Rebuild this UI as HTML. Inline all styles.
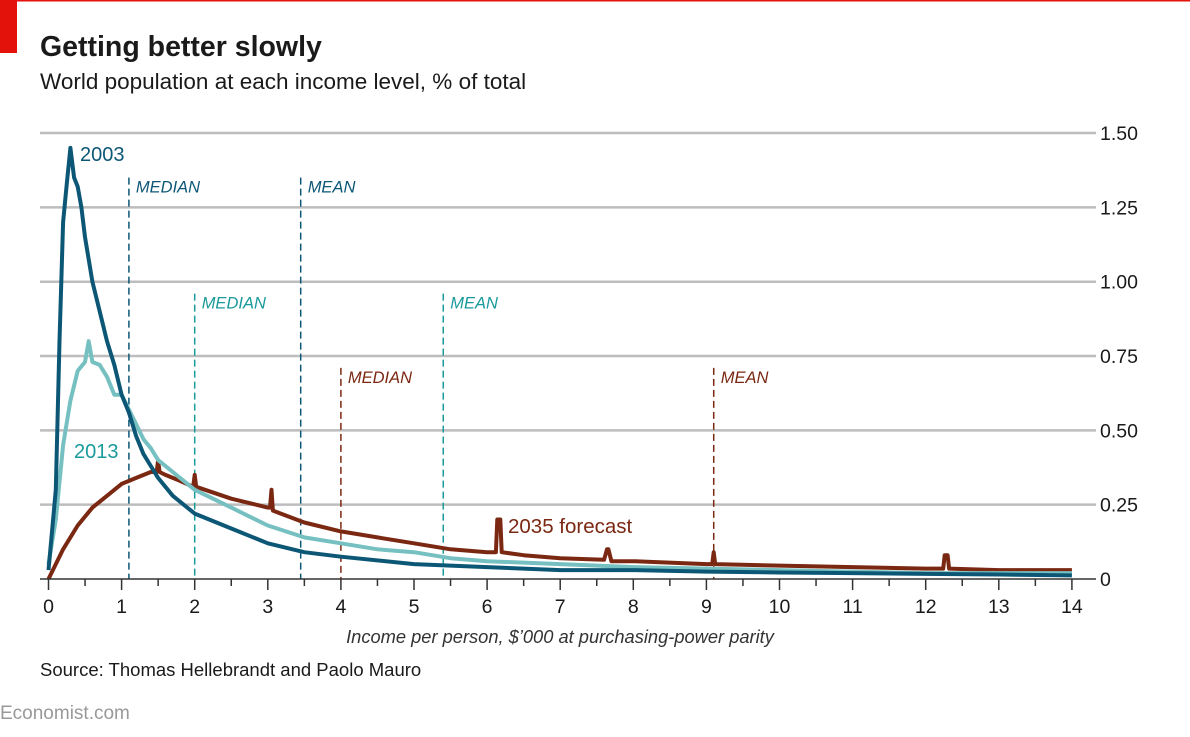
<!DOCTYPE html>
<html><head><meta charset="utf-8">
<style>
body{margin:0;width:1190px;height:732px;background:#fff;overflow:hidden;font-family:"Liberation Sans",sans-serif;}
</style></head>
<body>
<svg id="chart" width="1190" height="732" xmlns="http://www.w3.org/2000/svg" font-family="Liberation Sans, sans-serif">
<rect x="0" y="0" width="1190" height="1.5" fill="#e3120b"/>
<rect x="0" y="0" width="17" height="53" fill="#e3120b"/>
<text x="40" y="56" font-size="28.5" font-weight="bold" fill="#1a1a1a">Getting better slowly</text>
<text x="40" y="89" font-size="22.5" fill="#1a1a1a">World population at each income level, % of total</text>
<g id="grid"></g>
<g id="refs"></g>
<g id="lines"></g>
<g id="axes"></g>
<text x="80" y="161" font-size="20" fill="#0d5776">2003</text>
<text x="74" y="458" font-size="20" fill="#1b9a9c">2013</text>
<text x="508" y="533" font-size="20.5" fill="#7b2812">2035 forecast</text>
<text x="560" y="643" font-size="18.3" font-style="italic" fill="#333" text-anchor="middle">Income per person, $’000 at purchasing-power parity</text>
<text x="40" y="676" font-size="18.5" fill="#1a1a1a">Source: Thomas Hellebrandt and Paolo Mauro</text>
<text x="0" y="719" font-size="19" fill="#999">Economist.com</text>
</svg>
<script>
const yTicks=[0,0.25,0.5,0.75,1,1.25,1.5];
const yTickLabels=["0","0.25","0.50","0.75","1.00","1.25","1.50"];
const xTicks=[0,1,2,3,4,5,6,7,8,9,10,11,12,13,14];
const x2003=[0,0.1,0.15,0.2,0.25,0.3,0.35,0.4,0.45,0.5,0.6,0.7,0.8,0.9,1.0,1.1,1.2,1.3,1.4,1.5,1.7,2.0,2.5,3.0,3.5,4,5,6,7,8,9,10,11,12,13,14];
const y2003=[0.03,0.3,0.8,1.2,1.33,1.45,1.35,1.32,1.25,1.15,1.0,0.9,0.8,0.72,0.62,0.56,0.48,0.42,0.38,0.34,0.28,0.22,0.17,0.12,0.09,0.075,0.05,0.04,0.03,0.03,0.025,0.022,0.02,0.017,0.015,0.012];
const x2013=[0,0.1,0.2,0.3,0.4,0.5,0.55,0.6,0.7,0.8,0.9,1.0,1.1,1.2,1.3,1.4,1.5,1.7,2.0,2.5,3.0,3.5,4,4.5,5,5.5,6,7,8,9,10,11,12,13,14];
const y2013=[0.05,0.2,0.45,0.6,0.7,0.73,0.8,0.73,0.72,0.68,0.62,0.62,0.57,0.52,0.47,0.44,0.4,0.36,0.3,0.24,0.18,0.14,0.12,0.1,0.09,0.07,0.06,0.05,0.04,0.035,0.03,0.025,0.02,0.02,0.02];
const x2035=[0,0.1,0.2,0.4,0.6,0.8,1.0,1.2,1.4,1.48,1.5,1.52,1.6,1.8,1.98,2.0,2.02,2.5,3.0,3.03,3.05,3.07,3.5,4,4.5,5,5.5,6,6.12,6.14,6.18,6.2,6.5,7,7.6,7.64,7.66,7.7,8,9,9.08,9.1,9.12,10,11,12,12.24,12.26,12.3,12.32,13,14];
const y2035=[0,0.05,0.1,0.18,0.24,0.28,0.32,0.34,0.36,0.36,0.4,0.36,0.35,0.33,0.31,0.35,0.31,0.27,0.24,0.24,0.3,0.23,0.19,0.16,0.14,0.12,0.1,0.09,0.09,0.2,0.2,0.09,0.08,0.07,0.065,0.1,0.1,0.06,0.06,0.05,0.05,0.09,0.05,0.045,0.04,0.035,0.035,0.08,0.08,0.035,0.03,0.03];
const refX=[1.1,3.45,2.0,5.4,4.0,9.1];
const refTop=[1.35,1.35,0.96,0.96,0.71,0.71];
const refLabels=["MEDIAN","MEAN","MEDIAN","MEAN","MEDIAN","MEAN"];
const refColors=["#0d5776","#0d5776","#1b9a9c","#1b9a9c","#7b2812","#7b2812"];
const NS="http://www.w3.org/2000/svg";
const sx=v=>48.5+v*73.1, sy=v=>579-v*297.3;
function mk(tag,attrs,parent){const e=document.createElementNS(NS,tag);for(const k in attrs)e.setAttribute(k,attrs[k]);document.getElementById(parent).appendChild(e);return e;}
yTicks.forEach((t,i)=>{
  if(t>0){const g=mk('line',{x1:40,x2:1096,y1:sy(t),y2:sy(t),stroke:'#bdbdbd','stroke-width':2.5},'grid');
  
  }
  const l=mk('text',{x:1100,y:sy(t)+7,'font-size':19.5,fill:'#1a1a1a'},'axes');l.textContent=yTickLabels[i];
  
  
});
const base=mk('line',{x1:40,x2:1096,y1:579,y2:579,stroke:'#333','stroke-width':1.5},'axes');


xTicks.forEach(t=>{
  const tk=mk('line',{x1:sx(t),x2:sx(t),y1:579,y2:590,stroke:'#333','stroke-width':1.5},'axes');
  
  
  if(t<14){const m=mk('line',{x1:sx(t+0.5),x2:sx(t+0.5),y1:579,y2:586,stroke:'#333','stroke-width':1.5},'axes');
  
  }
  const l=mk('text',{x:sx(t),y:613,'font-size':19.5,fill:'#1a1a1a','text-anchor':'middle'},'axes');l.textContent=t;
  
  
});
refX.forEach((v,i)=>{
  const r=mk('line',{x1:sx(v),x2:sx(v),y1:sy(refTop[i]),y2:579,stroke:refColors[i],'stroke-width':1.5,'stroke-dasharray':'7,4'},'refs');
  
  
  const t=mk('text',{x:sx(v)+7,y:sy(refTop[i])+15,'font-size':16.5,'font-style':'italic',fill:refColors[i]},'refs');t.textContent=refLabels[i];
  
  
});
function line(xs,ys,c,name){
  const d=xs.map((x,i)=>(i?'L':'M')+sx(x).toFixed(1)+','+sy(ys[i]).toFixed(1)).join('');
  const p=mk('path',{d:d,fill:'none',stroke:c,'stroke-width':4,'stroke-linejoin':'round'},'lines');
  
  
}
line(x2035,y2035,'#7b2812','series-2035');
line(x2013,y2013,'#76c0c1','series-2013');
line(x2003,y2003,'#0d5776','series-2003');
</script>
</body></html>
